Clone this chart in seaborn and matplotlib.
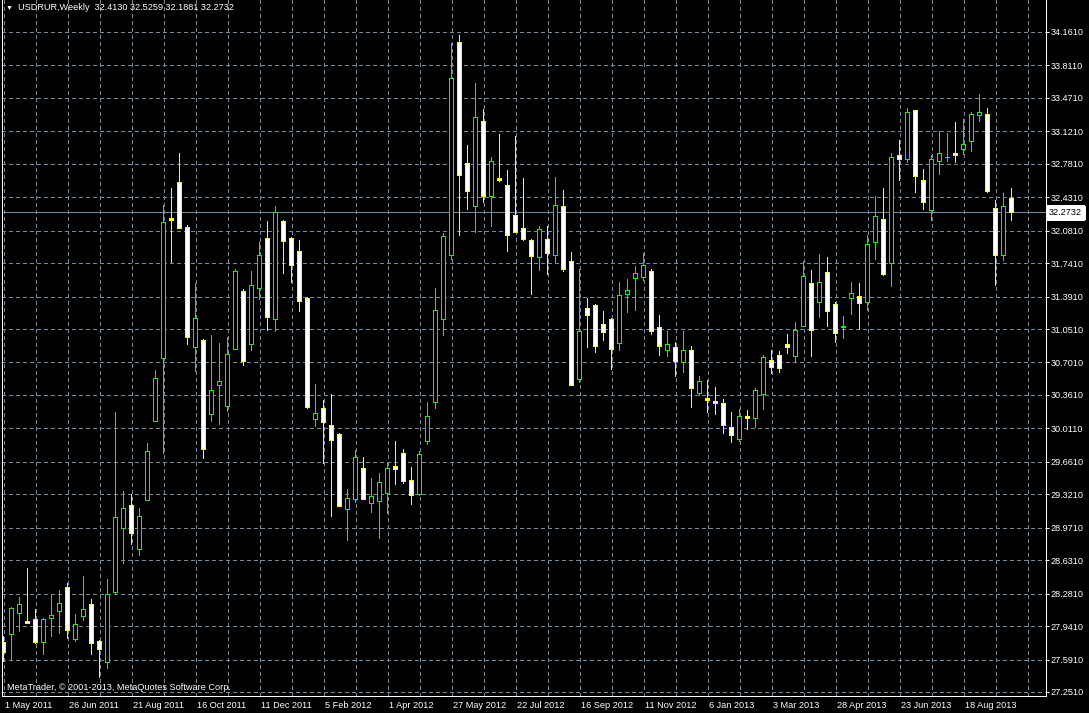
import numpy as np
import pandas as pd
import matplotlib
matplotlib.use("Agg")
import matplotlib.pyplot as plt
import matplotlib.transforms as mtransforms
import seaborn as sns

# USDRUR weekly bars (1 May 2011 .. end Sep 2013)
opens = [27.764, 27.858, 28.068, 27.994, 28.008, 27.764, 28.022, 28.099, 28.340, 27.802,
         28.043, 28.162, 27.778, 27.565, 28.290, 28.966, 29.199, 28.746, 29.259, 30.087,
         30.745, 32.206, 32.581, 32.117, 30.858, 30.936, 30.161, 30.462, 30.243, 30.837,
         31.449, 30.890, 31.477, 32.004, 31.156, 32.182, 32.004, 31.858, 31.376, 30.109,
         30.214, 30.046, 29.952, 29.157, 29.268, 29.586, 29.226, 29.247, 29.324, 29.607,
         29.743, 29.470, 29.314, 29.876, 30.277, 31.156, 31.823, 34.056, 32.779, 32.336,
         33.219, 32.440, 32.632, 32.549, 32.235, 32.108, 31.976, 31.801, 31.993, 31.822,
         32.339, 31.763, 30.524, 31.271, 31.302, 31.103, 31.156, 30.901, 31.414, 31.581,
         31.595, 31.658, 31.072, 30.831, 30.863, 30.702, 30.831, 30.381, 30.322, 30.297,
         30.276, 30.025, 29.896, 30.140, 30.116, 30.367, 30.726, 30.779, 30.884, 30.765,
         31.079, 31.533, 31.334, 31.648, 31.303, 31.070, 31.366, 31.390, 31.324, 31.959,
         32.203, 31.742, 32.863, 32.821, 33.334, 32.601, 32.297, 32.810, 32.846, 32.894,
         32.936, 33.016, 33.282, 33.292, 32.308, 31.823, 32.4130]
highs = [27.834, 28.135, 28.242, 28.549, 28.113, 28.025, 28.260, 28.312, 28.392, 28.063,
         28.455, 28.218, 27.785, 28.427, 30.175, 29.355, 29.316, 29.171, 29.850, 30.621,
         32.344, 32.521, 32.892, 32.130, 31.523, 30.946, 30.982, 30.897, 30.961, 31.672,
         31.463, 31.651, 31.952, 32.175, 32.329, 32.185, 32.010, 31.976, 31.380, 30.469,
         30.301, 30.364, 29.955, 29.376, 29.777, 29.704, 29.485, 29.537, 29.641, 29.872,
         29.788, 29.600, 29.764, 30.280, 31.474, 32.050, 34.039, 34.123, 32.971, 33.620,
         33.348, 32.852, 33.086, 32.716, 33.071, 32.625, 31.990, 32.122, 32.126, 32.635,
         32.499, 31.850, 31.672, 31.369, 31.305, 31.232, 31.160, 31.536, 31.567, 31.711,
         31.840, 31.679, 31.191, 31.030, 30.915, 31.030, 30.873, 30.552, 30.513, 30.437,
         30.311, 30.182, 30.206, 30.196, 30.426, 30.772, 30.824, 30.814, 30.992, 31.118,
         31.760, 31.662, 31.830, 31.795, 31.324, 31.180, 31.537, 31.526, 32.029, 32.434,
         32.521, 32.884, 33.030, 33.365, 33.338, 32.720, 32.866, 33.118, 33.097, 33.212,
         33.240, 33.313, 33.505, 33.355, 32.399, 32.475, 32.5259]
lows = [27.572, 27.583, 27.886, 27.965, 27.760, 27.645, 27.830, 27.865, 27.806, 27.777,
        27.998, 27.645, 27.398, 27.502, 28.285, 28.598, 28.796, 28.683, 29.255, 30.083,
        29.744, 31.750, 32.100, 30.886, 30.607, 29.698, 30.080, 30.052, 30.186, 30.833,
        30.671, 30.826, 31.359, 31.037, 31.027, 31.631, 31.540, 31.235, 30.217, 30.033,
        29.648, 29.090, 29.195, 28.839, 29.240, 29.265, 29.132, 28.853, 29.118, 29.419,
        29.430, 29.219, 29.310, 29.845, 30.221, 30.985, 31.777, 32.032, 32.304, 32.067,
        32.377, 32.126, 32.597, 31.864, 32.060, 31.980, 31.410, 31.662, 31.620, 31.745,
        31.655, 30.458, 30.496, 30.859, 30.807, 30.932, 30.632, 30.828, 31.225, 31.246,
        31.561, 30.995, 30.775, 30.765, 30.555, 30.601, 30.231, 30.360, 30.182, 30.154,
        29.959, 29.864, 29.875, 30.004, 30.015, 30.213, 30.590, 30.598, 30.797, 30.702,
        31.075, 30.765, 31.174, 31.079, 30.915, 30.954, 31.201, 31.051, 31.250, 31.777,
        31.614, 31.498, 32.608, 32.796, 32.482, 32.304, 32.192, 32.671, 32.807, 32.796,
        32.880, 32.912, 33.226, 32.482, 31.502, 31.770, 32.1881]
closes = [27.666, 28.130, 28.165, 27.973, 27.764, 28.015, 28.057, 28.176, 27.900, 27.954,
          28.110, 27.754, 27.691, 28.267, 29.082, 29.167, 28.912, 29.093, 29.772, 30.536,
          32.170, 32.188, 32.103, 30.964, 31.166, 29.790, 30.412, 30.497, 30.780, 31.658,
          30.706, 31.502, 31.816, 31.177, 32.266, 31.969, 31.718, 31.341, 30.231, 30.172,
          30.075, 29.889, 29.198, 29.282, 29.701, 29.268, 29.293, 29.449, 29.586, 29.576,
          29.453, 29.306, 29.733, 30.140, 31.250, 32.025, 33.679, 32.660, 32.493, 33.261,
          32.434, 32.810, 32.608, 32.032, 32.064, 31.986, 31.812, 32.088, 31.843, 32.349,
          31.676, 30.461, 31.030, 31.194, 30.869, 31.016, 30.838, 31.407, 31.459, 31.637,
          31.721, 31.027, 30.869, 30.894, 30.712, 30.831, 30.430, 30.507, 30.308, 30.273,
          30.042, 29.934, 30.140, 30.116, 30.412, 30.758, 30.650, 30.643, 30.859, 31.041,
          31.606, 31.041, 31.543, 31.236, 31.006, 31.074, 31.418, 31.320, 31.931, 32.228,
          31.624, 32.842, 32.831, 33.313, 32.653, 32.371, 32.831, 32.884, 32.852, 32.863,
          32.978, 33.292, 33.313, 32.493, 31.823, 32.329, 32.2732]

price_labels = ["34.1610", "33.8110", "33.4710", "33.1210", "32.7810", "32.4310", "32.0810",
                "31.7410", "31.3910", "31.0510", "30.7010", "30.3610", "30.0110", "29.6610",
                "29.3210", "28.9710", "28.6310", "28.2810", "27.9410", "27.5910", "27.2510"]
date_labels = ["1 May 2011", "26 Jun 2011", "21 Aug 2011", "16 Oct 2011", "11 Dec 2011",
               "5 Feb 2012", "1 Apr 2012", "27 May 2012", "22 Jul 2012", "16 Sep 2012",
               "11 Nov 2012", "6 Jan 2013", "3 Mar 2013", "28 Apr 2013", "23 Jun 2013",
               "18 Aug 2013"]
last_price = 32.2732
title = "USDRUR,Weekly  32.4130 32.5259 32.1881 32.2732"

GRID = "#778899"
PX = 0.72  # one pixel in points at 100 dpi
FS = 6.6

sns.set_theme(style="dark", rc={"axes.facecolor": "black", "figure.facecolor": "black",
                                "axes.edgecolor": "white", "text.color": "white",
                                "lines.antialiased": False, "patch.antialiased": False})
plt.rcParams["font.family"] = ["Liberation Sans", "DejaVu Sans"]

bars = pd.DataFrame({"open": opens, "high": highs, "low": lows, "close": closes})
bars["week"] = np.arange(len(bars))
bars["up"] = bars["close"] >= bars["open"]

# axes span pixels 2..1046 across, 0..696 down; one week = 8 px
fig = plt.figure(figsize=(10.89, 7.13), dpi=100)
ax = fig.add_axes([2 / 1089, 17 / 713, 1044 / 1089, 696 / 713])
x0 = -1.5 / 8
ax.set_xlim(x0, x0 + 1044 / 8)
ax.set_ylim(27.2091, 34.4960)
wx = 1 / 8                                # one pixel in weeks
wy = (34.4960 - 27.2091) / 696            # one pixel in price

# candles as pixel-sized filled rectangles: wick, outline, fill
for is_up, col, face in [(True, "#00ff00", "black"), (False, "#ffff00", "white")]:
    part = bars[bars["up"] == is_up]
    body_lo = part[["open", "close"]].min(axis=1)
    body_hi = part[["open", "close"]].max(axis=1)
    ax.bar(part["week"], part["high"] - part["low"] + wy, bottom=part["low"] - wy / 2,
           width=wx, color=col, linewidth=0, zorder=3)
    ax.bar(part["week"], body_hi - body_lo + wy, bottom=body_lo - wy / 2,
           width=5 * wx, color=col, linewidth=0, zorder=4)
    inner = (body_hi - body_lo) > 1.5 * wy
    ax.bar(part["week"][inner], (body_hi - body_lo - wy)[inner], bottom=(body_lo + wy / 2)[inner],
           width=3 * wx, color=face, linewidth=0, zorder=5)

ax.axhline(last_price, color=GRID, linewidth=PX, zorder=2)

# axes / grid
ax.set_yticks([float(v) for v in price_labels])
ax.set_yticklabels(price_labels)
ax.yaxis.tick_right()
ax.set_xticks(np.arange(0, 8 * len(date_labels), 8))
ax.set_xticklabels(date_labels, ha="left")
ax.set_xticks(np.r_[np.arange(4, 128, 8), 128], minor=True)
ax.grid(which="both", axis="both", color=GRID, linestyle=(0, (3, 3)), linewidth=PX, zorder=0)
ax.set_axisbelow(True)
ax.tick_params(axis="x", which="major", colors="white", direction="out", length=4 * PX,
               width=PX, labelsize=FS, pad=0.5)
ax.tick_params(axis="x", which="minor", length=0)
ax.tick_params(axis="y", colors="white", direction="out", length=3 * PX, width=PX,
               labelsize=FS, pad=1.2)
off = mtransforms.ScaledTranslation(1.5 / 100, 0, fig.dpi_scale_trans)
for lab in ax.get_xticklabels():
    lab.set_transform(lab.get_transform() + off)
for side in ["left", "bottom", "right"]:
    ax.spines[side].set_color("white")
    ax.spines[side].set_linewidth(PX)
ax.spines["top"].set_visible(False)

# current price tag on the price scale
tag = mtransforms.blended_transform_factory(ax.transAxes, ax.transData)
ax.text(1.0 + 3 / 1044, last_price, "32.2732", transform=tag, ha="left", va="center",
        fontsize=FS, color="black", zorder=6, clip_on=False,
        bbox=dict(boxstyle="square,pad=0.2", facecolor="white", edgecolor="white"))

fig.text(6 / 1089, 1 - 8 / 713, "\u25bc", fontsize=5, color="white", va="center", ha="left")
fig.text(18 / 1089, 1 - 8 / 713, title, fontsize=FS, color="white", va="center", ha="left")
fig.text(7 / 1089, 1 - 688 / 713, "MetaTrader, \u00a9 2001-2013, MetaQuotes Software Corp.",
         fontsize=FS, color="white", va="center", ha="left")

fig.savefig("out.png", dpi=100, facecolor="black")
